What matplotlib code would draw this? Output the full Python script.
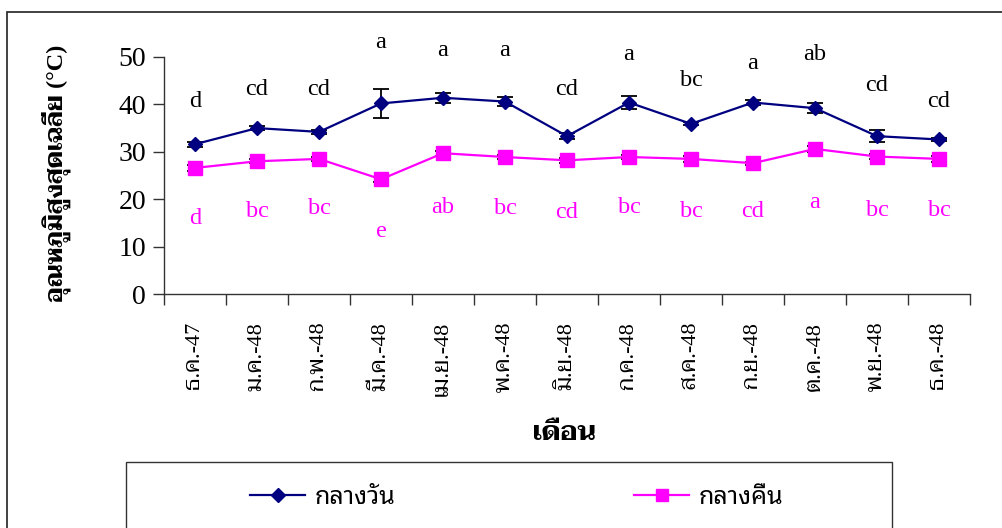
import matplotlib
matplotlib.use("Agg")
import matplotlib.pyplot as plt
from matplotlib.patches import Rectangle
from matplotlib.lines import Line2D
import numpy as np

# Monthly data
months = ["ธ.ค.-47", "ม.ค.-48", "ก.พ.-48", "มี.ค.-48", "เม.ย.-48", "พ.ค.-48", "มิ.ย.-48",
          "ก.ค.-48", "ส.ค.-48", "ก.ย.-48", "ต.ค.-48", "พ.ย.-48", "ธ.ค.-48"]
day_mean = [31.6, 35.0, 34.2, 40.2, 41.4, 40.6, 33.3, 40.4, 35.9, 40.4, 39.2, 33.3, 32.6]
day_err = [0.5, 0.4, 0.5, 3.1, 1.0, 1.0, 0.6, 1.3, 0.3, 0.6, 1.0, 1.2, 0.3]
night_mean = [26.6, 28.0, 28.5, 24.2, 29.7, 28.9, 28.2, 28.9, 28.5, 27.6, 30.6, 29.0, 28.5]
night_err = [0.6, 0.4, 0.4, 0.5, 0.5, 0.4, 0.5, 0.4, 0.6, 0.3, 0.6, 0.5, 0.6]
day_letters = ["d", "cd", "cd", "a", "a", "a", "cd", "a", "bc", "a", "ab", "cd", "cd"]
night_letters = ["d", "bc", "bc", "e", "ab", "bc", "cd", "bc", "bc", "cd", "a", "bc", "bc"]
day_letter_y = [40.6, 43.2, 43.2, 53.0, 51.4, 51.4, 43.2, 50.6, 45.0, 48.6, 50.6, 44.0, 40.6]
night_letter_y = [15.9, 17.3, 18.0, 13.2, 18.3, 18.0, 17.1, 18.2, 17.4, 17.3, 19.2, 17.6, 17.6]
series_names = ["กลางวัน", "กลางคืน"]

serif = ["Liberation Serif", "Taviraj", "Noto Serif Thai", "DejaVu Sans"]
sans = ["Noto Sans Thai Looped", "Noto Sans Thai", "DejaVu Sans"]

W, H = 1002, 528
fig = plt.figure(figsize=(W / 100, H / 100), dpi=100)

# outer frame and legend box
fig.patches.append(Rectangle((7 / W, -0.1), 1.2, 1 - 12 / H + 0.1, transform=fig.transFigure,
                             fill=False, edgecolor="#333333", linewidth=1.3))
fig.patches.append(Rectangle((126 / W, -0.1), (892 - 126) / W, 1 - 462 / H + 0.1,
                             transform=fig.transFigure, fill=False, edgecolor="#333333",
                             linewidth=1.0))

ax = fig.add_axes([164 / W, 1 - 294 / H, (970 - 164) / W, (294 - 57) / H])
x = np.arange(len(months))

navy = "#000080"
mag = "#FF00FF"
ax.errorbar(x, day_mean, yerr=day_err, color=navy, ecolor="black", elinewidth=1.3,
            capsize=5.5, capthick=1.3, marker="D", markersize=7.5, lw=1.6, zorder=3)
ax.errorbar(x, night_mean, yerr=night_err, color=mag, ecolor="black", elinewidth=1.3,
            capsize=5.5, capthick=1.3, marker="s", markersize=9.5, lw=1.6, zorder=3)

for i in range(len(months)):
    ax.text(x[i], day_letter_y[i], day_letters[i], ha="center", va="center",
            fontsize=17.5, family="Liberation Serif", color="black")
    ax.text(x[i], night_letter_y[i], night_letters[i], ha="center", va="center",
            fontsize=17.5, family="Liberation Serif", color=mag)

ax.set_xlim(-0.5, len(months) - 0.5)
ax.set_ylim(0, 50)
ax.set_yticks([0, 10, 20, 30, 40, 50])
ax.set_xticks(np.arange(-0.5, len(months)), labels=[""] * (len(months) + 1))
ax.set_xticks(x, minor=True)
ax.set_xticklabels(months, minor=True, rotation=90, fontsize=16, family=serif)
ax.tick_params(axis="x", which="minor", length=0, pad=20)
ax.tick_params(axis="x", which="major", length=8, width=1, direction="out", color="#333333")
ax.tick_params(axis="y", length=8, width=1, color="#333333", labelsize=20, pad=5)
for lab in ax.get_yticklabels():
    lab.set_family("Liberation Serif")
for s in ["top", "right"]:
    ax.spines[s].set_visible(False)
for s in ["left", "bottom"]:
    ax.spines[s].set_color("#333333")
    ax.spines[s].set_linewidth(1)

fig.text(56 / W, 1 - 173 / H, "อุณหภูมิสูงสุดเฉลี่ย (°C)", rotation=90, ha="center", va="center",
         fontsize=17.5, fontweight="bold", family=serif)
fig.text(564 / W, 1 - 433 / H, "เดือน", ha="center", va="center", fontsize=19,
         fontweight="bold", family=serif)

# legend: one entry per series, anchored at the start of its line sample
handles = [Line2D([], [], color=navy, marker="D", markersize=7, lw=1.6),
           Line2D([], [], color=mag, marker="s", markersize=8, lw=1.6)]
for h, name, x0 in zip(handles, series_names, [250, 634]):
    fig.legend([h], [name], loc="center left", bbox_to_anchor=(x0 / W, 1 - 497 / H),
               frameon=False, borderpad=0, borderaxespad=0, handlelength=2.2,
               handletextpad=0.4, prop={"family": sans, "size": 18})

fig.savefig("out.png", dpi=100)
